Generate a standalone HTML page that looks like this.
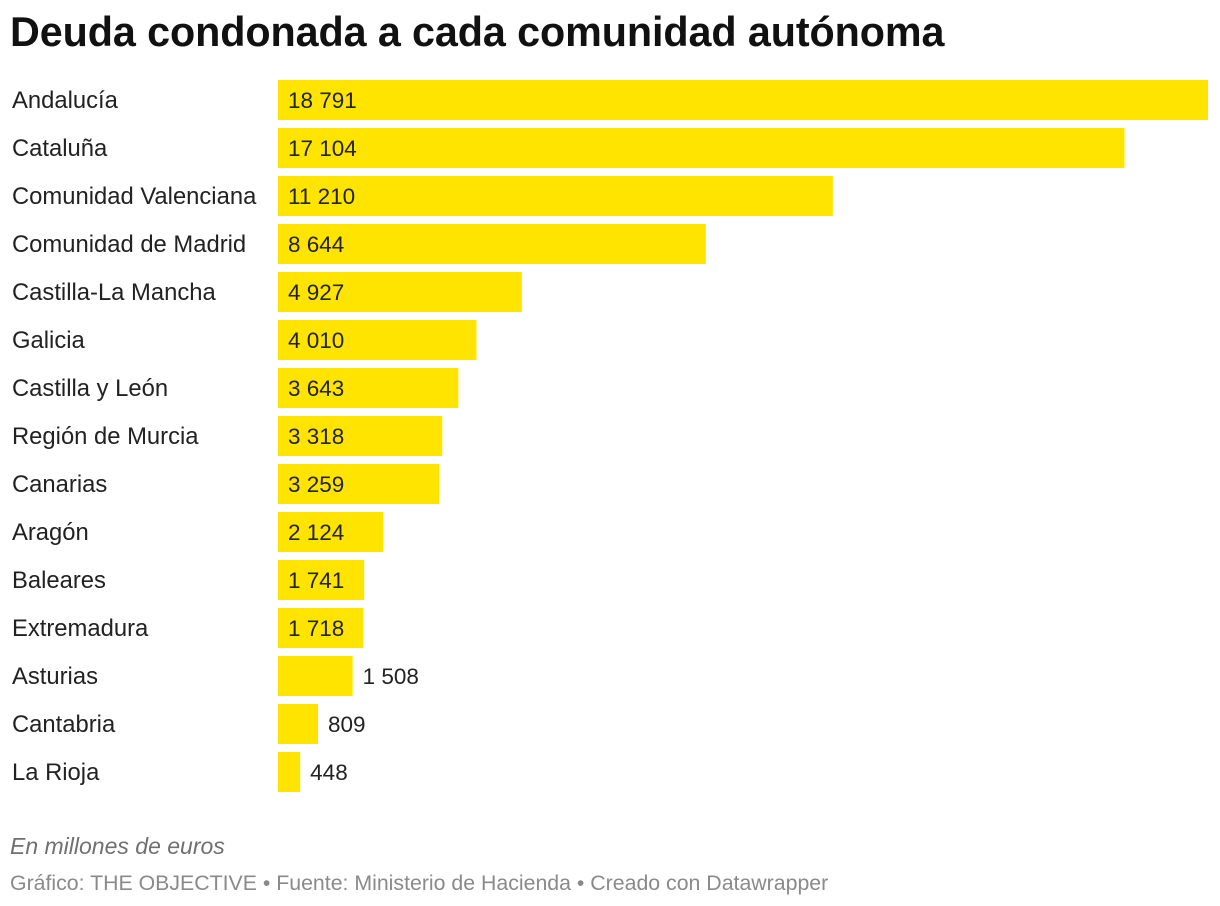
<!DOCTYPE html>
<html><head><meta charset="utf-8"><style>
body{margin:0;background:#fff;font-family:"Liberation Sans",sans-serif;}
#wrap{position:relative;width:1220px;height:906px;overflow:hidden}
h1{position:absolute;left:10px;top:9px;margin:0;font-size:41.3px;font-weight:bold;color:#111;letter-spacing:-0.1px;white-space:nowrap}
.note{position:absolute;left:10px;top:833px;font-size:23px;font-style:italic;color:#707070}
.src{position:absolute;left:10px;top:871px;font-size:21.3px;color:#8a8a8a}
</style></head><body>
<div id="wrap">
<h1>Deuda condonada a cada comunidad autónoma</h1>
<svg id="chart" width="1220" height="906" style="position:absolute;left:0;top:0"></svg>
<div class="note">En millones de euros</div>
<div class="src">Gráfico: THE OBJECTIVE • Fuente: Ministerio de Hacienda • Creado con Datawrapper</div>
</div>
<script>
const categories=["Andalucía","Cataluña","Comunidad Valenciana","Comunidad de Madrid","Castilla-La Mancha","Galicia","Castilla y León","Región de Murcia","Canarias","Aragón","Baleares","Extremadura","Asturias","Cantabria","La Rioja"];
const values=[18791,17104,11210,8644,4927,4010,3643,3318,3259,2124,1741,1718,1508,809,448];
const valueLabels=["18 791","17 104","11 210","8 644","4 927","4 010","3 643","3 318","3 259","2 124","1 741","1 718","1 508","809","448"];
const svg=document.getElementById('chart');
const NS="http://www.w3.org/2000/svg";
const x0=278,x1=1208,maxV=Math.max(...values);
const xs=v=>v/maxV*(x1-x0);
const ys=i=>80+i*48;
categories.forEach((c,i)=>{
  const y=ys(i),w=xs(values[i]);
  const t=document.createElementNS(NS,'text');
  
  
  t.setAttribute('x',12);t.setAttribute('y',y+28);
  t.setAttribute('font-size','23.8');t.setAttribute('fill','#222');
  t.textContent=c;svg.appendChild(t);
  const r=document.createElementNS(NS,'rect');
  
  
  r.setAttribute('x',x0);r.setAttribute('y',y);r.setAttribute('width',w);r.setAttribute('height',40);
  r.setAttribute('fill','#ffe400');svg.appendChild(r);
  const v=document.createElementNS(NS,'text');
  
  
  const inside=w>80;
  v.setAttribute('x',inside?x0+10:x0+w+10);v.setAttribute('y',y+28);
  v.setAttribute('font-size','22.5');v.setAttribute('fill','#222');
  v.textContent=valueLabels[i];svg.appendChild(v);
});
</script>
</body></html>
